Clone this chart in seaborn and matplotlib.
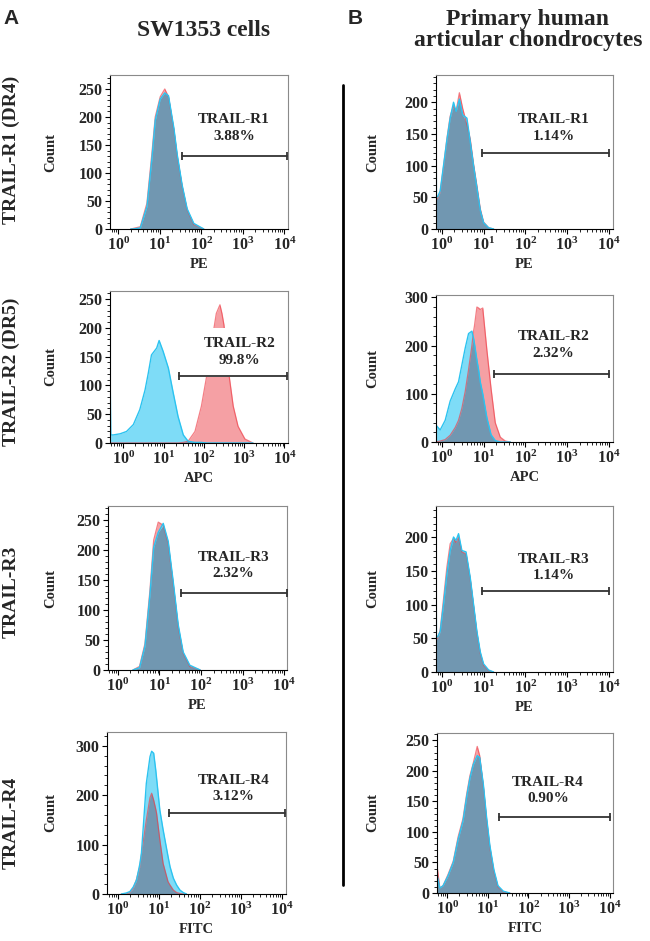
import numpy as np
import matplotlib
matplotlib.use("Agg")
import matplotlib.pyplot as plt
import seaborn as sns
from matplotlib.ticker import LogLocator, AutoMinorLocator, MultipleLocator, FuncFormatter, NullFormatter
from matplotlib.lines import Line2D

# ---------------- data ----------------
row_labels = ["TRAIL-R1 (DR4)", "TRAIL-R2 (DR5)", "TRAIL-R3", "TRAIL-R4"]
col_titles = ["SW1353 cells", "Primary human\narticular chondrocytes"]
panel_letters = ["A", "B"]
channels = ["PE", "APC", "PE", "FITC"]
receptors = ["TRAIL-R1", "TRAIL-R2", "TRAIL-R3", "TRAIL-R4"]
pct_sw1353 = ["3.88%", "99.8%", "2.32%", "3.12%"]
pct_primary = ["1.14%", "2.32%", "1.14%", "0.90%"]

# log10 fluorescence positions and counts (red = stained, blue = control)
a1_logx = [0.30, 0.36, 0.53, 0.69, 0.81, 0.89, 1.01, 1.12, 1.21, 1.34, 1.42, 1.54, 1.66, 1.82, 2.06]
a1_red = [0, 1, 4, 46, 135, 200, 236, 250, 236, 177, 130, 76, 34, 8, 0]
a1_blue = [0, 0, 2, 40, 126, 194, 232, 243, 238, 180, 133, 78, 36, 10, 0]

a2_logx = [-0.33, -0.31, -0.25, -0.08, 0.08, 0.25, 0.41, 0.54, 0.62, 0.70, 0.83, 0.89, 0.99, 1.12, 1.24,
           1.36, 1.49, 1.61, 1.78, 1.94, 2.07, 2.23, 2.31, 2.40, 2.45, 2.50, 2.56, 2.63, 2.73, 2.85, 3.02, 3.22]
a2_red = [0, 0, 0, 0, 0, 0, 0, 0, 0, 0, 0, 0, 0, 0, 0,
          0, 1, 3, 20, 64, 116, 190, 225, 240, 225, 205, 160, 116, 64, 29, 7, 0]
a2_blue = [136, 14, 14, 16, 20, 32, 58, 92, 121, 153, 165, 178, 159, 130, 87,
           46, 14, 3, 1, 1, 0, 0, 0, 0, 0, 0, 0, 0, 0, 0, 0, 0]

a3_logx = [0.36, 0.52, 0.65, 0.77, 0.86, 0.97, 1.09, 1.21, 1.33, 1.45, 1.57, 1.73, 1.98]
a3_red = [0, 6, 44, 133, 217, 247, 242, 211, 144, 72, 28, 6, 0]
a3_blue = [0, 4, 40, 126, 205, 230, 245, 215, 148, 76, 30, 8, 0]

a4_logx = [0.08, 0.20, 0.29, 0.37, 0.45, 0.53, 0.57, 0.69, 0.78, 0.82, 0.87, 0.92, 0.94, 1.02, 1.10,
           1.22, 1.27, 1.35, 1.43, 1.51, 1.59, 1.67]
a4_red = [0, 0, 3, 11, 30, 55, 80, 150, 195, 204, 190, 172, 164, 110, 62, 25, 18, 8, 3, 1, 0, 0]
a4_blue = [0, 2, 5, 14, 28, 60, 82, 224, 278, 289, 285, 251, 235, 170, 130, 76, 55, 32, 18, 8, 3, 0]

b1_logx = [-0.14, -0.13, -0.10, -0.04, 0.04, 0.12, 0.20, 0.28, 0.34, 0.42, 0.50, 0.60, 0.68, 0.76,
           0.84, 0.92, 1.00, 1.12, 1.24]
b1_red = [45, 48, 48, 58, 98, 142, 178, 195, 185, 215, 190, 165, 142, 102, 68, 32, 11, 2, 0]
b1_blue = [235, 51, 51, 60, 100, 140, 175, 200, 185, 205, 180, 175, 138, 100, 65, 30, 10, 2, 0]

b2_logx = [-0.14, -0.04, 0.08, 0.20, 0.32, 0.40, 0.48, 0.56, 0.64, 0.72, 0.76, 0.78, 0.84, 0.88, 0.92,
           0.98, 1.08, 1.18, 1.28, 1.40, 1.52, 1.64]
b2_red = [0, 2, 5, 14, 30, 45, 70, 105, 150, 200, 230, 240, 280, 278, 275, 278, 190, 110, 40, 10, 2, 0]
b2_blue = [35, 25, 45, 85, 110, 125, 160, 195, 225, 230, 215, 205, 170, 150, 125, 100, 50, 15, 3, 0, 0, 0]

b3_logx = [-0.14, -0.13, -0.10, -0.04, 0.04, 0.12, 0.20, 0.28, 0.34, 0.40, 0.48, 0.58, 0.68, 0.76,
           0.84, 0.92, 1.00, 1.12, 1.24]
b3_red = [45, 48, 50, 62, 108, 155, 190, 198, 192, 200, 178, 175, 138, 98, 58, 28, 10, 2, 0]
b3_blue = [240, 52, 52, 60, 100, 145, 180, 200, 195, 205, 180, 178, 140, 100, 60, 30, 12, 3, 0]

b4_logx = [-0.25, -0.18, -0.10, 0.02, 0.15, 0.27, 0.39, 0.48, 0.56, 0.64, 0.74, 0.80, 0.89, 0.97,
           1.05, 1.15, 1.25, 1.38, 1.54]
b4_red = [45, 8, 12, 30, 52, 92, 122, 162, 192, 212, 240, 225, 175, 120, 75, 35, 10, 2, 0]
b4_blue = [30, 8, 12, 28, 50, 88, 118, 158, 188, 210, 225, 222, 178, 124, 78, 38, 12, 3, 0]

# gate start (log10) and gate level (count)
gate_a_start = [1.54, 1.39, 1.52, 1.25]
gate_a_level = [131, 116, 129, 163]
gate_b_start = [0.97, 1.24, 0.97, 1.27]
gate_b_level = [120, 142, 120, 124]
gate_a_end = 4.07
gate_b_end = 4.0

# ---------------- style ----------------
sns.set_theme(style="ticks")
plt.rcParams.update({
    "font.family": ["Liberation Serif", "DejaVu Serif"],
    "font.weight": "bold",
    "axes.labelweight": "bold",
    "mathtext.fontset": "custom",
    "mathtext.rm": "Liberation Serif:bold",
    "mathtext.it": "Liberation Serif:italic:bold",
    "mathtext.bf": "Liberation Serif:bold",
    "axes.linewidth": 0.8,
})

PINK = "#F5A0A4"
CYAN = "#7EDCF7"
OVER = "#7197B1"
REDL = "#EE3B45"
BLUL = "#2BC3F0"
GATE = "#333333"

W, H = 650, 941
fig = plt.figure(figsize=(6.5, 9.41), dpi=100)

log_fmt = FuncFormatter(lambda v, p: r"$\mathbf{10^{%d}}$" % int(round(np.log10(v))))


def panel(box, logx, red, blue, xlim, ylim, ystep, gx, gy, gend, tx, ty,
          text, channel, ylab_x, boxed=False):
    l, t, r, b = box
    ax = fig.add_axes([l / W, 1 - b / H, (r - l) / W, (b - t) / H])
    x = 10 ** np.asarray(logx, dtype=float)
    red = np.asarray(red, dtype=float)
    blue = np.asarray(blue, dtype=float)
    ov = np.minimum(red, blue)
    ax.fill_between(x, 0, red, color=PINK, lw=0, zorder=1)
    ax.fill_between(x, 0, blue, color=CYAN, lw=0, zorder=1.1)
    ax.fill_between(x, 0, ov, color=OVER, lw=0, zorder=1.2)
    sns.lineplot(x=x, y=red, ax=ax, color=REDL, lw=0.9, alpha=0.65, sort=False, estimator=None, zorder=1.3)
    sns.lineplot(x=x, y=blue, ax=ax, color=BLUL, lw=1.0, sort=False, estimator=None, zorder=1.4)
    ax.set_xscale("log")
    ax.set_xlim(10 ** xlim[0], 10 ** xlim[1])
    ax.set_ylim(0, ylim)
    ax.xaxis.set_major_locator(LogLocator(base=10, numticks=10))
    ax.xaxis.set_minor_locator(LogLocator(base=10, subs=np.arange(2, 10), numticks=50))
    ax.xaxis.set_major_formatter(log_fmt)
    ax.xaxis.set_minor_formatter(NullFormatter())
    ax.yaxis.set_major_locator(MultipleLocator(ystep))
    ax.yaxis.set_minor_locator(AutoMinorLocator(5))
    ax.tick_params(which="major", direction="out", length=3.5, width=0.8, labelsize=11.5, pad=2, color="black")
    ax.tick_params(which="minor", direction="out", length=2, width=0.6, color="black")
    for s in ["top", "right"]:
        ax.spines[s].set_color("#8a8a8a")
    for s in ["left", "bottom"]:
        ax.spines[s].set_color("black")
    # gate
    ax.plot([10 ** gx, 10 ** gend], [gy, gy], color=GATE, lw=1.3, zorder=4)
    ax.plot([10 ** gx, 10 ** gend], [gy, gy], ls="none", marker="|", ms=6, mew=1.3, color=GATE, zorder=4)
    kw = dict(ha="center", va="center", fontsize=11, linespacing=1.35, zorder=3)
    if boxed:
        kw["bbox"] = dict(fc="white", ec="none", pad=7)
    ax.text(10 ** tx, ty, text, **kw)
    ax.set_ylabel("Count", fontsize=10.5)
    ax.yaxis.set_label_coords(ylab_x, 0.5)
    if channel:
        ax.set_xlabel(channel, fontsize=10.5)
        ax.xaxis.set_label_coords(0.5, -29 / (b - t))
    else:
        ax.set_xlabel("")
    return ax


a_boxes = [(110, 75, 288, 229), (110, 291, 288, 443), (108, 506, 287, 670), (107, 732, 286, 894)]
b_boxes = [(436, 75, 613, 229), (436, 295, 613, 442), (436, 506, 613, 672), (437, 733, 613, 893)]
a_data = [(a1_logx, a1_red, a1_blue), (a2_logx, a2_red, a2_blue), (a3_logx, a3_red, a3_blue), (a4_logx, a4_red, a4_blue)]
b_data = [(b1_logx, b1_red, b1_blue), (b2_logx, b2_red, b2_blue), (b3_logx, b3_red, b3_blue), (b4_logx, b4_red, b4_blue)]
a_xlim = [(-0.2, 4.09), (-0.33, 4.09), (-0.24, 4.07), (-0.27, 4.1)]
b_xlim = [(-0.14, 4.1), (-0.14, 4.1), (-0.14, 4.1), (-0.25, 4.08)]
a_ylim = [275, 264, 274, 328]
b_ylim = [243, 305, 246, 262]
a_ystep = [50, 50, 50, 100]
b_ystep = [50, 100, 50, 50]
a_tx = [2.79, 2.88, 2.78, 2.82]
a_ty = [180, 158, 175, 214]
b_tx = [2.68, 2.68, 2.68, 2.48]
b_ty = [159, 201, 155, 168]

for i in range(4):
    lx, rd, bl = a_data[i]
    box = a_boxes[i]
    panel(box, lx, rd, bl, a_xlim[i], a_ylim[i], a_ystep[i], gate_a_start[i], gate_a_level[i], gate_a_end,
          a_tx[i], a_ty[i], f"{receptors[i]}\n{pct_sw1353[i]}", channels[i],
          (57 - box[0]) / (box[2] - box[0]), boxed=(i == 1))
    lx, rd, bl = b_data[i]
    box = b_boxes[i]
    panel(box, lx, rd, bl, b_xlim[i], b_ylim[i], b_ystep[i], gate_b_start[i], gate_b_level[i], gate_b_end,
          b_tx[i], b_ty[i], f"{receptors[i]}\n{pct_primary[i]}", channels[i],
          (379 - box[0]) / (box[2] - box[0]))

# row labels
row_y = [150, 372, 592, 823]
for lab, y in zip(row_labels, row_y):
    fig.text(11 / W, 1 - y / H, lab, rotation=90, ha="center", va="center", fontsize=14)

# column titles and panel letters
fig.text(204 / W, 1 - 31 / H, col_titles[0], ha="center", va="center", fontsize=17)
fig.text(528 / W, 1 - 30 / H, col_titles[1], ha="center", va="center", fontsize=17, linespacing=1.0)
fig.text(3 / W, 1 - 18 / H, panel_letters[0], ha="left", va="center", fontsize=15,
         family="Liberation Sans", weight="bold")
fig.text(348 / W, 1 - 19 / H, panel_letters[1], ha="left", va="center", fontsize=15,
         family="Liberation Sans", weight="bold")

# separator line
fig.add_artist(Line2D([343 / W, 343 / W], [1 - 85 / H, 1 - 885 / H], color="black", lw=2))

fig.savefig("out.png", dpi=100)
